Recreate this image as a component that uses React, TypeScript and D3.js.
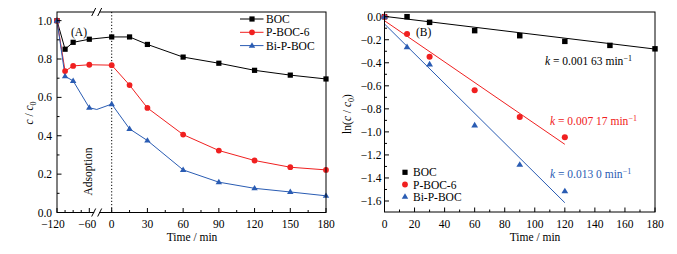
import React from "react";
import * as d3 from "d3";

// ---- Data ----
const timesA = [-120, -105, -90, -60, 0, 15, 30, 60, 90, 120, 150, 180];
const bocA = [1.0, 0.851, 0.887, 0.903, 0.915, 0.915, 0.876, 0.81, 0.778, 0.741, 0.716, 0.696];
const pbocA = [1.0, 0.737, 0.764, 0.77, 0.768, 0.664, 0.545, 0.406, 0.323, 0.271, 0.236, 0.222];
const bipbocA = [1.0, 0.71, 0.686, 0.546, 0.565, 0.436, 0.375, 0.222, 0.158, 0.126, 0.107, 0.087];
// line of Bi-P-BOC passes a hidden point at the axis break
const bipbocBreak = { t: -40, v: 0.537 };

const timesB = [0, 15, 30, 60, 90, 120, 150, 180];
const bocB = [0, 0.0, -0.049, -0.121, -0.165, -0.214, -0.249, -0.279];
const timesBshort = [0, 15, 30, 60, 90, 120];
const pbocB = [0, -0.15, -0.347, -0.639, -0.871, -1.047];
const bipbocB = [0, -0.263, -0.413, -0.943, -1.285, -1.515];
// fitted lines: [t0, v0, t1, v1]
const fitBOC = [0, 0.003, 180, -0.281];
const fitPBOC = [0, -0.035, 120, -1.108];
const fitBiPBOC = [0, -0.063, 120, -1.615];

const xTicksA = [-120, -60, 0, 30, 60, 90, 120, 150, 180];
const xMinorA = [-105, -90, -75, 15, 45, 75, 105, 135, 165];
const yTicksA = [0, 0.2, 0.4, 0.6, 0.8, 1.0];
const yMinorA = [0.1, 0.3, 0.5, 0.7, 0.9];
const xTicksB = [0, 20, 40, 60, 80, 100, 120, 140, 160, 180];
const xMinorB = [10, 30, 50, 70, 90, 110, 130, 150, 170];
const yTicksB = [0, -0.2, -0.4, -0.6, -0.8, -1.0, -1.2, -1.4, -1.6];
const yMinorB = [-0.1, -0.3, -0.5, -0.7, -0.9, -1.1, -1.3, -1.5];

const seriesNames = ["BOC", "P-BOC-6", "Bi-P-BOC"];
const colors = ["#000000", "#f02020", "#2a5cb3"];

const FONT = "'Liberation Serif', 'Times New Roman', 'DejaVu Serif', serif";
const FS = 11.5;

const fmt = (v: number, d: number) => {
  const s = Math.abs(v).toFixed(d);
  return (v < -1e-9 ? "\u2212" : "") + s;
};

function Marker({ kind, x, y, color, s = 1 }: { kind: number; x: number; y: number; color: string; s?: number }) {
  if (kind === 0) {
    const h = 2.6 * s;
    return <rect x={x - h} y={y - h} width={2 * h} height={2 * h} fill={color} />;
  }
  if (kind === 1) return <circle cx={x} cy={y} r={2.9 * s} fill={color} />;
  const r = 3.4 * s;
  const pts = [
    [x, y - r],
    [x + r * 0.95, y + r * 0.6],
    [x - r * 0.95, y + r * 0.6],
  ];
  return <polygon points={pts.map((p) => p.join(",")).join(" ")} fill={color} />;
}

export default function App() {
  // Panel A scales
  const L = 57, R = 326, T = 12, B = 212.5;
  const xA = d3.scaleLinear().domain([-120, -60, 0, 180]).range([L, 89.3, 111.7, R]);
  const yA = d3.scaleLinear().domain([0, 1.045]).range([B, T]);
  // Panel B scales
  const L2 = 384.5, R2 = 655, T2 = 12, B2 = 212;
  const xB = d3.scaleLinear().domain([0, 180]).range([L2, R2]);
  const yB = d3.scaleLinear().domain([0, -1.6]).range([16.7, 201]);

  const lineA = d3
    .line<[number, number]>()
    .x((d) => xA(d[0]))
    .y((d) => yA(d[1]));

  const seriesA = [bocA, pbocA, bipbocA];
  const pathsA = seriesA.map((vals, i) => {
    let pts: [number, number][] = timesA.map((t, j) => [t, vals[j]]);
    if (i === 2) {
      pts = [...pts.slice(0, 4), [bipbocBreak.t, bipbocBreak.v], ...pts.slice(4)];
    }
    return lineA(pts) as string;
  });

  const seriesB = [
    { t: timesB, v: bocB, fit: fitBOC },
    { t: timesBshort, v: pbocB, fit: fitPBOC },
    { t: timesBshort, v: bipbocB, fit: fitBiPBOC },
  ];

  const breakX = 96.7;
  const labelShiftA: Record<number, number> = { [-120]: -4, [-60]: -2 };

  const sup = (s: string) => (
    <tspan fontSize={8} dy={-4.5}>
      {s}
    </tspan>
  );

  return (
    <svg
      width={677}
      height={254}
      style={{ position: "absolute", left: 0, top: 0, background: "#fff", fontFamily: FONT }}
      fontFamily={FONT}
    >
      <rect x={0} y={0} width={677} height={254} fill="#fff" />
      {/* ===== Panel A ===== */}
      <line x1={xA(0)} x2={xA(0)} y1={T} y2={B} stroke="#000" strokeWidth={1} strokeDasharray="1.2,2" />
      {pathsA.map((d, i) => (
        <path key={i} d={d} fill="none" stroke={colors[i]} strokeWidth={1} />
      ))}
      {seriesA.map((vals, i) =>
        timesA.map((t, j) => <Marker key={`${i}-${j}`} kind={i} x={xA(t)} y={yA(vals[j])} color={colors[i]} />)
      )}
      <rect x={L} y={T} width={R - L} height={B - T} fill="none" stroke="#000" strokeWidth={1} />
      {[T, B].map((yy, k) => (
        <g key={k}>
          <rect x={breakX - 2.5} y={yy - 2} width={5} height={4} fill="#fff" />
          <line x1={breakX - 5} y1={yy + 4} x2={breakX - 1} y2={yy - 4} stroke="#000" strokeWidth={1} />
          <line x1={breakX + 1} y1={yy + 4} x2={breakX + 5} y2={yy - 4} stroke="#000" strokeWidth={1} />
        </g>
      ))}
      {xTicksA.map((t) => (
        <g key={t}>
          <line x1={xA(t)} x2={xA(t)} y1={B} y2={B - 4.5} stroke="#000" />
          <text x={xA(t) + (labelShiftA[t] || 0)} y={B + 15} fontSize={FS} textAnchor="middle">
            {fmt(t, 0)}
          </text>
        </g>
      ))}
      {xMinorA.map((t) => (
        <line key={t} x1={xA(t)} x2={xA(t)} y1={B} y2={B - 2.5} stroke="#000" />
      ))}
      {yTicksA.map((v) => (
        <g key={v}>
          <line x1={L} x2={L + 4.5} y1={yA(v)} y2={yA(v)} stroke="#000" />
          <text x={L - 5} y={yA(v) + 4} fontSize={FS} textAnchor="end">
            {fmt(v, 1)}
          </text>
        </g>
      ))}
      {yMinorA.map((v) => (
        <line key={v} x1={L} x2={L + 2.5} y1={yA(v)} y2={yA(v)} stroke="#000" />
      ))}
      <text x={192} y={241} fontSize={FS} textAnchor="middle">
        Time / min
      </text>
      <text transform={`translate(33,113) rotate(-90)`} fontSize={FS} textAnchor="middle">
        <tspan fontStyle="italic">c</tspan> / <tspan fontStyle="italic">c</tspan>
        <tspan fontSize={8} dy={2.5}>0</tspan>
      </text>
      <text transform={`translate(92,171.5) rotate(-90)`} fontSize={FS} textAnchor="middle">
        Adsoption
      </text>
      <text x={71} y={36} fontSize={FS}>
        (A)
      </text>
      {seriesNames.map((n, i) => {
        const yy = 19 + i * 13.3;
        return (
          <g key={n}>
            <line x1={240} x2={263.5} y1={yy} y2={yy} stroke={colors[i]} strokeWidth={1} />
            <Marker kind={i} x={252} y={yy} color={colors[i]} />
            <text x={266} y={yy + 4} fontSize={FS}>
              {n}
            </text>
          </g>
        );
      })}

      {/* ===== Panel B ===== */}
      {seriesB.map((s, i) => (
        <line
          key={`f${i}`}
          x1={xB(s.fit[0])}
          y1={yB(s.fit[1])}
          x2={xB(s.fit[2])}
          y2={yB(s.fit[3])}
          stroke={colors[i]}
          strokeWidth={1}
        />
      ))}
      {seriesB.map((s, i) =>
        s.t.map((t, j) => <Marker key={`b${i}-${j}`} kind={i} x={xB(t)} y={yB(s.v[j])} color={colors[i]} s={1.05} />)
      )}
      <rect x={L2} y={T2} width={R2 - L2} height={B2 - T2} fill="none" stroke="#000" strokeWidth={1} />
      {xTicksB.map((t) => (
        <g key={t}>
          <line x1={xB(t)} x2={xB(t)} y1={B2} y2={B2 - 4.5} stroke="#000" />
          <text x={xB(t)} y={B2 + 16} fontSize={FS} textAnchor="middle">
            {fmt(t, 0)}
          </text>
        </g>
      ))}
      {xMinorB.map((t) => (
        <line key={t} x1={xB(t)} x2={xB(t)} y1={B2} y2={B2 - 2.5} stroke="#000" />
      ))}
      {yTicksB.map((v) => (
        <g key={v}>
          <line x1={L2} x2={L2 + 4.5} y1={yB(v)} y2={yB(v)} stroke="#000" />
          <text x={L2 - 3} y={yB(v) + 4} fontSize={FS} textAnchor="end">
            {fmt(v, 1)}
          </text>
        </g>
      ))}
      {yMinorB.map((v) => (
        <line key={v} x1={L2} x2={L2 + 2.5} y1={yB(v)} y2={yB(v)} stroke="#000" />
      ))}
      <text x={535} y={241} fontSize={FS} textAnchor="middle">
        Time / min
      </text>
      <text transform={`translate(351,114) rotate(-90)`} fontSize={FS} textAnchor="middle">
        ln(<tspan fontStyle="italic">c</tspan> / <tspan fontStyle="italic">c</tspan>
        <tspan fontSize={8} dy={2.5}>0</tspan>
        <tspan dy={-2.5}>)</tspan>
      </text>
      <text x={416} y={36} fontSize={FS}>
        (B)
      </text>
      <text x={545} y={65} fontSize={FS} fill={colors[0]}>
        <tspan fontStyle="italic">k</tspan> = 0.001 63 min{sup("\u22121")}
      </text>
      <text x={550} y={125} fontSize={FS} fill={colors[1]}>
        <tspan fontStyle="italic">k</tspan> = 0.007 17 min{sup("\u22121")}
      </text>
      <text x={550} y={178} fontSize={FS} fill={colors[2]}>
        <tspan fontStyle="italic">k</tspan> = 0.013 0 min{sup("\u22121")}
      </text>
      {seriesNames.map((n, i) => {
        const yy = 172.3 + i * 12.2;
        return (
          <g key={`lb${n}`}>
            <Marker kind={i} x={405} y={yy} color={colors[i]} />
            <text x={413} y={yy + 4} fontSize={FS}>
              {n}
            </text>
          </g>
        );
      })}
    </svg>
  );
}
